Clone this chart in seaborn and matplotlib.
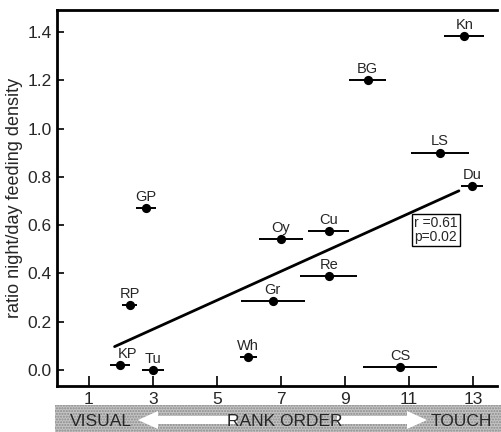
import matplotlib
matplotlib.use("Agg")
import matplotlib.pyplot as plt
import seaborn as sns
import pandas as pd
import numpy as np
from matplotlib.patches import FancyArrow, Rectangle

species = ["GP", "RP", "KP", "Tu", "Wh", "Gr", "Oy", "Cu", "Re", "CS", "BG", "Kn", "LS", "Du"]
rank = [2.79, 2.27, 1.98, 3.0, 5.98, 6.74, 7.0, 8.49, 8.49, 10.72, 9.71, 12.73, 11.97, 12.97]
ratio = [0.67, 0.27, 0.02, 0.0, 0.054, 0.284, 0.542, 0.575, 0.389, 0.014, 1.20, 1.383, 0.90, 0.761]
rank_err = [0.31, 0.23, 0.31, 0.35, 0.27, 1.0, 0.7, 0.63, 0.9, 1.15, 0.57, 0.62, 0.91, 0.34]
label_dx = [0, 0, 5, 0, 0, 0, 0, 0, 0, 0, 0, 0, 0, 0]
fit_x = [1.8, 12.56]
fit_y = [0.097, 0.742]
xticks = [1, 3, 5, 7, 9, 11, 13]
yticks = [0.0, 0.2, 0.4, 0.6, 0.8, 1.0, 1.2, 1.4]

df = pd.DataFrame({"species": species, "rank": rank, "ratio": ratio, "err": rank_err})

sns.set_style("ticks")
plt.rcParams["font.family"] = ["Liberation Sans", "DejaVu Sans"]

fig = plt.figure(figsize=(5.02, 4.32), dpi=100)
ax = fig.add_axes([0.1135, 0.1065, 0.8765, 0.870])

ax.errorbar(df["rank"], df["ratio"], xerr=df["err"], fmt="none", ecolor="black",
            elinewidth=1.4, capsize=0, zorder=2)
sns.scatterplot(data=df, x="rank", y="ratio", ax=ax, color="black", s=44,
                edgecolor="black", linewidth=0, zorder=3, legend=False)
ax.plot(fit_x, fit_y, color="black", lw=2.0, zorder=2)

for s, x, y, dx in zip(species, rank, ratio, label_dx):
    ax.annotate(s, (x, y), xytext=(dx, 3), textcoords="offset points",
                ha="center", va="bottom", fontsize=10.5)

ax.annotate("r =0.61\np=0.02", xy=(0.812, 0.416), xycoords="axes fraction",
            ha="left", va="center", fontsize=10, linespacing=1.0,
            bbox=dict(boxstyle="square,pad=0.15", fc="white", ec="black", lw=1.0))

ax.set_xlim(0, 13.75)
ax.set_ylim(-0.066, 1.49)
ax.set_xticks(xticks)
ax.set_yticks(yticks)
ax.set_xticklabels([str(t) for t in xticks])
ax.set_yticklabels([f"{t:.1f}" for t in yticks])
ax.tick_params(axis="both", direction="in", labelsize=12.5, color="black", width=1.2)
ax.tick_params(axis="x", length=7, pad=4)
ax.tick_params(axis="y", length=5, pad=4)
ax.set_xlabel("")
ax.set_ylabel("ratio night/day feeding density", fontsize=13, labelpad=3)
for side in ["left", "bottom", "top"]:
    ax.spines[side].set_linewidth(2.0)
    ax.spines[side].set_color("black")
ax.spines["right"].set_visible(False)

# banner
bax = fig.add_axes([55 / 502, 0, 447 / 502, 27 / 432])
bax.set_xlim(0, 447)
bax.set_ylim(0, 27)
bax.axis("off")
bax.add_patch(Rectangle((0, 0), 447, 27, facecolor="#c4c4c4", edgecolor="#8a8a8a",
                        hatch="......", lw=0))
bax.add_patch(FancyArrow(182, 12, -99, 0, width=8, head_width=18, head_length=20,
                         length_includes_head=True, fc="white", ec="none"))
bax.add_patch(FancyArrow(282, 12, 90, 0, width=8, head_width=18, head_length=20,
                         length_includes_head=True, fc="white", ec="none"))
bax.text(15, 11, "VISUAL", fontsize=12.5, va="center", ha="left")
bax.text(230, 11, "RANK ORDER", fontsize=12.5, va="center", ha="center")
bax.text(437, 11, "TOUCH", fontsize=12.5, va="center", ha="right")

fig.savefig("out.png", dpi=100)
